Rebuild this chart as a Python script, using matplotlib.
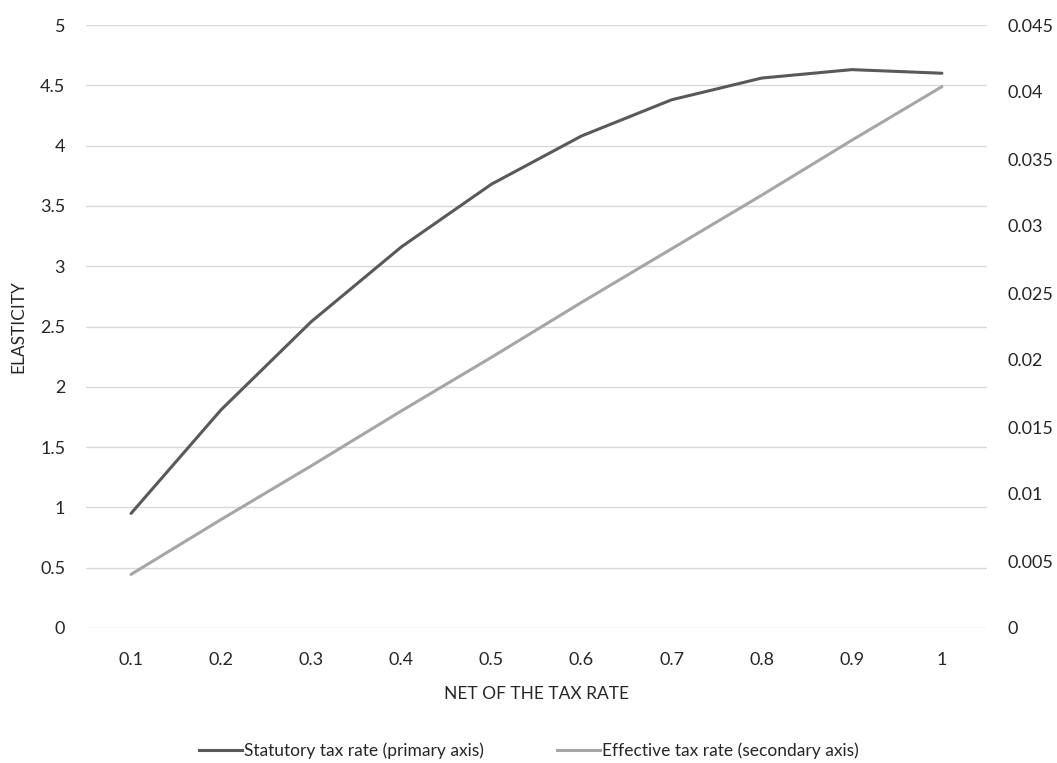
import matplotlib
matplotlib.use("Agg")
import matplotlib.pyplot as plt
from matplotlib.lines import Line2D

categories = ["0.1", "0.2", "0.3", "0.4", "0.5", "0.6", "0.7", "0.8", "0.9", "1"]
statutory = [0.95, 1.81, 2.54, 3.16, 3.68, 4.08, 4.38, 4.56, 4.63, 4.60]
effective = [0.0040, 0.0081, 0.0121, 0.0162, 0.0202, 0.0243, 0.0283, 0.0323, 0.0364, 0.0404]
left_ticks = [0, 0.5, 1, 1.5, 2, 2.5, 3, 3.5, 4, 4.5, 5]
right_ticks = [0, 0.005, 0.01, 0.015, 0.02, 0.025, 0.03, 0.035, 0.04, 0.045]

plt.rcParams['font.family'] = ['Lato', 'DejaVu Sans']
tc = '#262626'

fig = plt.figure(figsize=(10.57, 7.63), dpi=100)
ax = fig.add_axes([86 / 1057, 1 - 628 / 763, (987 - 86) / 1057, (628 - 25) / 763])
ax2 = ax.twinx()

x = list(range(len(categories)))
ax.plot(x, statutory, color='#595959', lw=2.2, solid_capstyle='round', zorder=3)
ax2.plot(x, effective, color='#a6a6a6', lw=2.2, solid_capstyle='round', zorder=3)

ax.set_xlim(-0.5, len(categories) - 0.5)
ax.set_ylim(0, 5)
ax2.set_ylim(0, 0.045)
ax.set_yticks(left_ticks)
ax.set_yticklabels([f"{v:g}" for v in left_ticks])
ax2.set_yticks(right_ticks)
ax2.set_yticklabels([f"{v:g}" for v in right_ticks])
ax.set_xticks(x)
ax.set_xticklabels(categories)

ax.grid(axis='y', color='#d9d9d9', lw=1)
ax.set_axisbelow(True)
for a in (ax, ax2):
    for s in a.spines.values():
        s.set_visible(False)
    a.tick_params(length=0, labelsize=13, colors=tc)
ax.tick_params(axis='y', pad=15)
ax2.tick_params(axis='y', pad=15)
ax.tick_params(axis='x', pad=17)
ax.set_ylabel('ELASTICITY', fontsize=12.5, color=tc, labelpad=10)
ax.set_xlabel('NET OF THE TAX RATE', fontsize=12.5, color=tc, labelpad=13)

handles = [Line2D([], [], color='#595959', lw=2.2),
           Line2D([], [], color='#a6a6a6', lw=2.2)]
fig.legend(handles, ['Statutory tax rate (primary axis)', 'Effective tax rate (secondary axis)'],
           loc='center', bbox_to_anchor=(0.5, 0.016), ncol=2, frameon=False,
           fontsize=12.5, handlelength=2.5, handletextpad=0.1, columnspacing=4.2,
           labelcolor=tc)

fig.savefig('out.png', dpi=100)
